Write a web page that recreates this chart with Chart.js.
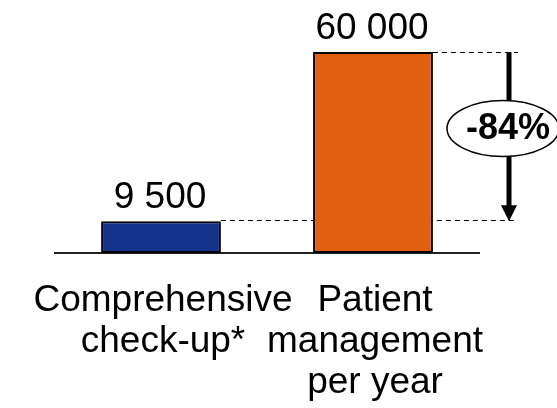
<!DOCTYPE html>
<html>
<head>
<meta charset="utf-8">
<script src="https://cdn.jsdelivr.net/npm/chart.js@4"></script>
<style>
  html, body { margin: 0; padding: 0; background: #fff; }
  canvas { display: block; }
</style>
</head>
<body>
<canvas id="myChart" width="557" height="408"></canvas>
<script>
// chart data
const categories = [
    ['Comprehensive', 'check-up*'],
    ['Patient', 'management', 'per year']
];
const costs = [9500, 60000];
const barColors = ['#13338A', '#E35F10'];

const FONT = '"Liberation Sans", Arial, sans-serif';

function formatNumber(v) {
    return String(v).replace(/\B(?=(\d{3})+(?!\d))/g, ' ');
}

// dashed guides behind the bars
const guides = {
    id: 'guides',
    beforeDatasetsDraw(chart) {
        const ctx = chart.ctx;
        const y = chart.scales.y;
        const bars = chart.getDatasetMeta(0).data;
        const arrowX = chart.chartArea.right + 30;
        const hi = Math.round(y.getPixelForValue(costs[1])) + 0.5;
        const lo = Math.round(y.getPixelForValue(costs[0])) - 0.5;

        ctx.save();
        ctx.strokeStyle = '#000';
        ctx.lineWidth = 1;
        ctx.setLineDash([5, 4]);
        ctx.beginPath();
        ctx.moveTo(bars[1].x + bars[1].width / 2, hi);
        ctx.lineTo(arrowX + 9, hi);
        ctx.moveTo(bars[0].x + bars[0].width / 2, lo);
        ctx.lineTo(arrowX + 6, lo);
        ctx.stroke();
        ctx.restore();
    }
};

// value labels, arrow and percentage bubble
const annotate = {
    id: 'annotate',
    afterDatasetsDraw(chart) {
        const ctx = chart.ctx;
        const y = chart.scales.y;
        const bars = chart.getDatasetMeta(0).data;
        const arrowX = chart.chartArea.right + 30;
        const hi = y.getPixelForValue(costs[1]);
        const lo = y.getPixelForValue(costs[0]);

        ctx.save();
        ctx.fillStyle = '#000';
        ctx.font = '37px ' + FONT;
        ctx.textAlign = 'center';
        ctx.textBaseline = 'alphabetic';
        bars.forEach((bar, i) => {
            ctx.fillText(formatNumber(costs[i]), bar.x - 1, bar.y - 13);
        });

        // arrow
        ctx.strokeStyle = '#000';
        ctx.lineWidth = 5;
        ctx.beginPath();
        ctx.moveTo(arrowX, hi);
        ctx.lineTo(arrowX, lo - 14);
        ctx.stroke();
        ctx.beginPath();
        ctx.moveTo(arrowX - 8, lo - 16);
        ctx.lineTo(arrowX + 8, lo - 16);
        ctx.lineTo(arrowX, lo);
        ctx.closePath();
        ctx.fill();

        // bubble
        const cx = arrowX - 6;
        const cy = (hi + lo) / 2 - 8;
        ctx.beginPath();
        ctx.ellipse(cx, cy, 56, 28, 0, 0, Math.PI * 2);
        ctx.fillStyle = '#fff';
        ctx.fill();
        ctx.lineWidth = 1.5;
        ctx.stroke();

        const pct = Math.round((costs[0] - costs[1]) / costs[1] * 100);
        ctx.fillStyle = '#000';
        ctx.font = 'bold 36px ' + FONT;
        ctx.textBaseline = 'middle';
        ctx.fillText(pct + '%', cx + 5, cy);
        ctx.restore();
    }
};

let config = {
    type: 'bar',
    data: {
        labels: categories,
        datasets: [{
            data: costs,
            backgroundColor: barColors,
            borderColor: '#000',
            borderWidth: 2,
            borderSkipped: false,
            barPercentage: 0.565,
            categoryPercentage: 1
        }]
    },
    options: {
        responsive: false,
        animation: false,
        layout: {
            padding: { top: 52, left: 55, right: 78, bottom: 0 }
        },
        plugins: {
            legend: { display: false },
            tooltip: { enabled: false }
        },
        scales: {
            x: {
                grid: { display: false, drawTicks: false },
                border: { display: true, color: '#222', width: 2 },
                ticks: {
                    color: '#000',
                    padding: 27,
                    labelOffset: 2,
                    maxRotation: 0,
                    autoSkip: false,
                    font: { family: FONT, size: 37, lineHeight: '41px' }
                },
                afterFit(scale) {
                    // labels may overhang the plot; keep the plot where it is
                    scale.height = 155;
                    scale.paddingLeft = 0;
                    scale.paddingRight = 0;
                }
            },
            y: {
                display: false,
                min: 0,
                max: 60000
            }
        }
    },
    plugins: [guides, annotate]
};

myChart = new Chart(document.getElementById('myChart'), config);
</script>
</body>
</html>
